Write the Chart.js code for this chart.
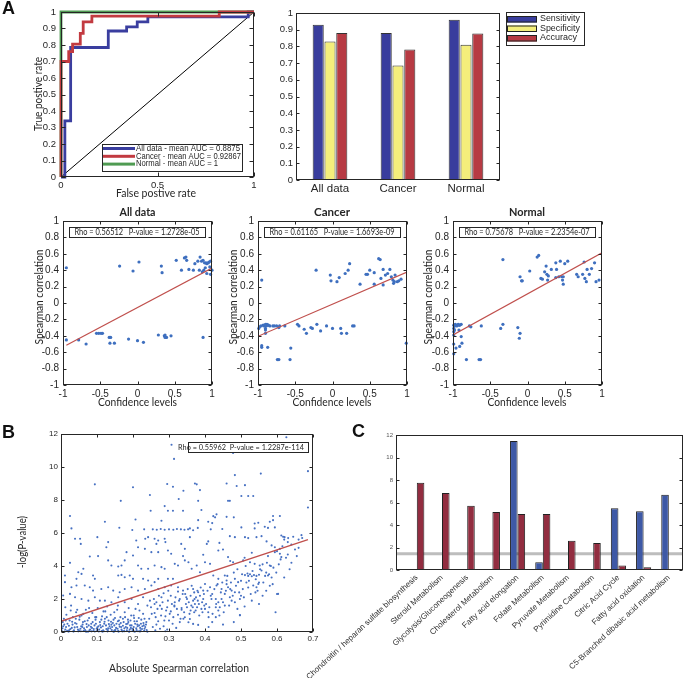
<!DOCTYPE html>
<html>
<head>
<meta charset="utf-8">
<script src="https://cdn.jsdelivr.net/npm/chart.js@4.4.1/dist/chart.umd.min.js"></script>
<style>
  html, body { margin: 0; padding: 0; background: #fff; }
  #fig { position: relative; width: 685px; height: 678px; overflow: hidden; }
  #fig canvas { position: absolute; left: 0; top: 0; }
</style>
</head>
<body>
<div id="fig">
  <canvas id="roc" width="685" height="678"></canvas>
  <canvas id="perf" width="685" height="678"></canvas>
  <canvas id="scAll" width="685" height="678"></canvas>
  <canvas id="scCancer" width="685" height="678"></canvas>
  <canvas id="scNormal" width="685" height="678"></canvas>
  <canvas id="panelB" width="685" height="678"></canvas>
  <canvas id="panelC" width="685" height="678"></canvas>
</div>
<script>
// ---------- data ----------

// A: ROC curves (x = false positive rate, y = true positive rate)
const rocAllX    = [0, 0.02, 0.02, 0.05, 0.05, 0.245, 0.245, 0.34, 0.34, 0.395, 0.395, 0.45, 0.45, 0.97, 0.97, 1];
const rocAllY    = [0, 0, 0.34, 0.34, 0.785, 0.785, 0.885, 0.885, 0.91, 0.91, 0.94, 0.94, 0.97, 0.97, 1, 1];
const rocCancerX = [0, 0, 0.04, 0.04, 0.06, 0.06, 0.1, 0.1, 0.115, 0.115, 0.16, 0.16, 0.82, 0.82, 1];
const rocCancerY = [0, 0.7, 0.7, 0.76, 0.76, 0.805, 0.805, 0.87, 0.87, 0.94, 0.94, 0.975, 0.975, 1, 1];
const rocNormalX = [0, 0, 1];
const rocNormalY = [0, 1, 1];
const rocNames = ['All data - mean AUC = 0.8875', 'Cancer - mean AUC = 0.92867', 'Normal - mean AUC = 1'];

// A: classifier performance
const groupNames  = ['All data', 'Cancer', 'Normal'];
const metricNames = ['Sensitivity', 'Specificity', 'Accuracy'];
const sensitivity = [0.93, 0.88, 0.96];
const specificity = [0.83, 0.685, 0.81];
const accuracy    = [0.88, 0.782, 0.877];

// A: confidence level vs Spearman correlation
const allPts = [
  [-0.955,0.43],[-0.955,-0.45],[-0.79,-0.45],[-0.69,-0.5],[-0.55,-0.37],[-0.52,-0.37],[-0.49,-0.37],[-0.47,-0.37],
  [-0.38,-0.42],[-0.36,-0.42],[-0.37,-0.49],[-0.31,-0.49],[-0.24,0.45],[-0.12,-0.44],[-0.06,0.39],[0,-0.46],
  [0.02,0.5],[0.08,-0.48],[0.28,-0.39],[0.32,0.45],[0.33,0.37],[0.36,-0.4],[0.37,-0.42],[0.39,-0.42],[0.37,-0.39],
  [0.45,-0.4],[0.52,0.52],[0.59,0.4],[0.63,0.55],[0.65,0.56],[0.66,0.52],[0.69,0.41],[0.75,0.4],[0.77,0.48],
  [0.81,0.51],[0.84,0.56],[0.86,0.51],[0.87,0.38],[0.88,0.52],[0.89,0.4],[0.9,0.49],[0.91,0.43],[0.92,0.49],
  [0.93,0.36],[0.93,0.48],[0.95,0.49],[0.96,0.5],[0.97,0.44],[0.98,0.51],[0.98,0.35],[1,0.4],[0.88,-0.42],[0.83,0.4]
];
const cancerPts = [
  [-0.95,0.28],[-0.99,-0.31],[-0.98,-0.29],[-0.96,-0.28],[-0.93,-0.27],[-0.92,-0.28],[-0.9,-0.26],[-0.89,-0.28],
  [-0.88,-0.26],[-0.87,-0.27],[-0.86,-0.27],[-0.84,-0.28],[-0.9,-0.31],[-0.9,-0.33],[-0.9,-0.37],[-0.95,-0.52],
  [-0.95,-0.54],[-0.87,-0.54],[-0.8,-0.28],[-0.78,-0.28],[-0.75,-0.28],[-0.71,-0.28],[-0.72,-0.3],[-0.74,-0.69],
  [-0.72,-0.69],[-0.64,-0.28],[-0.56,-0.55],[-0.57,-0.69],[-0.47,-0.26],[-0.45,-0.28],[-0.38,-0.32],[-0.35,-0.37],
  [-0.29,-0.3],[-0.27,-0.31],[-0.22,0.4],[-0.21,-0.26],[-0.16,-0.34],[-0.08,-0.28],[-0.03,0.34],[-0.02,0.27],
  [0,-0.31],[0.06,0.26],[0.09,0.31],[0.11,-0.31],[0.12,-0.37],[0.17,0.36],[0.19,-0.37],[0.21,0.4],[0.23,0.48],
  [0.27,-0.28],[0.29,-0.28],[0.37,0.23],[0.45,0.35],[0.47,0.35],[0.5,0.4],[0.56,0.37],[0.56,0.23],[0.62,0.54],
  [0.64,0.53],[0.65,0.3],[0.68,0.41],[0.68,0.22],[0.71,0.34],[0.74,0.36],[0.77,0.41],[0.79,0.32],[0.81,0.28],
  [0.82,0.24],[0.83,0.26],[0.84,0.34],[0.87,0.26],[0.89,0.27],[0.92,0.29],[0.99,-0.49]
];
const normalPts = [
  [-0.99,-0.27],[-0.98,-0.28],[-0.97,-0.26],[-0.96,-0.27],[-0.95,-0.28],[-0.93,-0.26],[-0.92,-0.27],[-0.91,-0.27],
  [-0.89,-0.26],[-0.99,-0.31],[-0.98,-0.33],[-0.99,-0.35],[-0.99,-0.39],[-0.92,-0.33],[-0.89,-0.41],[-0.88,-0.49],
  [-0.91,-0.53],[-0.96,-0.55],[-0.99,-0.5],[-0.99,-0.62],[-0.82,-0.69],[-0.78,-0.28],[-0.76,-0.29],[-0.65,-0.69],
  [-0.63,-0.69],[-0.62,-0.28],[-0.36,-0.31],[-0.33,0.53],[-0.33,-0.26],[-0.13,-0.3],[-0.11,-0.43],[-0.1,-0.37],
  [-0.1,0.32],[-0.08,0.27],[-0.07,0.27],[0.03,0.39],[0.13,0.56],[0.15,0.58],[0.18,0.3],[0.2,0.29],[0.23,0.38],
  [0.25,0.45],[0.26,0.35],[0.27,0.28],[0.28,0.33],[0.32,0.41],[0.38,0.49],[0.39,0.41],[0.38,0.31],[0.42,0.32],
  [0.44,0.51],[0.46,0.32],[0.47,0.28],[0.48,0.23],[0.48,0.32],[0.5,0.48],[0.54,0.51],[0.66,0.35],[0.68,0.32],
  [0.74,0.35],[0.77,0.3],[0.79,0.26],[0.8,0.41],[0.76,0.5],[0.83,0.35],[0.86,0.42],[0.9,0.49],[0.92,0.26],[0.96,0.28]
];
const allFit    = [[-0.955, -0.515], [1, 0.426]];
const cancerFit = [[-1, -0.406], [1, 0.377]];
const normalFit = [[-1, -0.39], [1, 0.613]];
const allRho    = 'Rho = 0.56512   P-value = 1.2728e-05';
const cancerRho = 'Rho = 0.61165   P-value = 1.6693e-09';
const normalRho = 'Rho = 0.75678   P-value = 2.2354e-07';

// B: absolute Spearman correlation vs -log(P-value)
const bPts = [
  [0.307,11.35],[0.314,10.49],[0.478,10.85],[0.626,11.8],[0.686,9.75],[0.483,9.51],[0.555,9.6],[0.094,8.95],[0.2,8.77],
  [0.295,8.97],[0.311,8.8],[0.372,9.0],[0.377,8.95],[0.386,8.6],[0.46,9.0],[0.488,8.85],[0.511,8.9],[0.34,8.56],
  [0.166,7.95],[0.247,8.3],[0.327,8.06],[0.381,7.95],[0.464,7.95],[0.469,7.95],[0.501,8.24],[0.52,8.24],[0.534,8.24],
  [0.686,7.55],[0.025,7.03],[0.122,6.68],[0.207,6.82],[0.249,7.35],[0.279,6.74],[0.288,7.63],[0.297,7.35],[0.311,7.35],
  [0.339,7.35],[0.39,7.39],[0.432,7.13],[0.423,7.02],[0.428,6.95],[0.46,6.98],[0.48,6.95],[0.589,7.03],[0.608,7.03],
  [0.381,6.78],[0.409,6.68],[0.538,6.58],[0.548,6.62],[0.58,6.68],[0.589,6.78],
  [0.029,6.28],[0.162,6.32],[0.198,6.18],[0.231,6.22],[0.255,6.22],[0.266,6.2],[0.277,6.24],[0.288,6.2],[0.3,6.22],
  [0.312,6.2],[0.322,6.24],[0.333,6.22],[0.343,6.2],[0.353,6.22],[0.358,6.28],[0.367,6.17],[0.38,6.31],[0.416,6.22],
  [0.448,6.24],[0.501,6.34],[0.538,6.28],[0.566,6.38],[0.575,6.31],[0.594,6.34],
  [0.039,5.65],[0.053,5.65],[0.055,5.34],[0.101,5.75],[0.131,5.45],[0.126,5.14],[0.209,5.55],[0.214,5.14],[0.234,5.65],
  [0.242,5.75],[0.26,5.65],[0.265,5.34],[0.27,5.55],[0.288,5.65],[0.29,5.45],[0.297,4.94],[0.306,4.74],[0.233,5.04],
  [0.251,4.84],[0.27,4.84],[0.334,5.34],[0.344,5.04],[0.339,4.6],[0.182,4.84],[0.2,4.64],[0.177,4.34],[0.131,4.34],
  [0.14,4.03],[0.159,3.97],[0.168,4.03],[0.025,4.19],[0.08,4.58],[0.103,4.6],[0.358,5.75],[0.405,5.34],[0.409,5.49],
  [0.437,4.94],[0.45,5.0],[0.469,5.81],[0.483,5.75],[0.511,5.75],[0.52,5.69],[0.543,5.75],[0.557,5.81],[0.571,5.49],
  [0.585,5.25],[0.594,5.14],[0.608,5.04],[0.612,5.85],[0.621,5.75],[0.631,5.69],[0.594,4.84],[0.608,4.74],[0.612,4.54],
  [0.395,4.68],[0.4,4.23],[0.414,4.13],[0.464,4.54],[0.478,4.23],[0.506,4.34],[0.525,4.23],[0.538,4.13],[0.552,4.03],
  [0.617,5.77],[0.645,5.77],[0.668,5.87],[0.354,4.23],[0.377,4.03],[0.214,4.03],[0.26,4.03],[0.279,3.93],[0.316,4.13],
  [0.325,4.03],[0.344,4.34],
  [0.062,3.83],[0.048,3.62],[0.057,3.52],[0.011,3.42],[0.043,3.22],[0.089,3.42],[0.094,3.22],[0.223,3.83],[0.242,3.83],
  [0.288,3.83],[0.159,3.42],[0.168,3.46],[0.177,3.32],[0.191,3.42],[0.2,3.22],[0.228,3.22],[0.242,3.12],[0.26,3.02],
  [0.27,3.22],[0.297,3.22],[0.311,3.22],[0.557,3.73],[0.575,3.42],[0.58,4.03],[0.511,3.45],[0.52,3.4],[0.525,3.5],
  [0.53,3.38],[0.536,3.45],[0.543,3.4],[0.55,3.47],[0.518,3.55],[0.363,3.83],[0.386,3.62],[0.423,3.42],[0.437,3.22],
  [0.455,3.42],[0.46,3.12],[0.483,3.22],[0.492,3.02],[0.534,2.82],[0.543,2.71],[0.548,2.91],[0.474,2.51],
  [0.011,3.02],[0.029,2.71],[0.043,2.82],[0.066,2.82],[0.08,2.71],[0.089,2.51],[0.112,2.61],[0.131,2.71],[0.145,2.51],
  [0.163,2.41],[0.177,2.61],[0.196,2.71],[0.214,2.51],[0.233,2.61],[0.251,2.82],[0.27,2.61],[0.288,2.71],[0.306,2.82],
  [0.325,2.71],[0.339,2.51],[0.4,2.91],[0.414,2.71],[0.432,2.82],[0.446,2.61],[0.464,2.71],[0.367,2.61],[0.381,2.41],
  [0.395,2.51],[0.603,2.31],[0.455,2.31],[0.469,2.11],[0.483,2.41],[0.497,2.0],
  [0.006,2.21],[0.025,2.31],[0.039,2.11],[0.057,2.0],[0.076,1.9],[0.094,2.11],[0.108,1.9],[0.122,1.9],[0.14,1.8],
  [0.159,2.11],[0.177,1.8],[0.196,2.0],[0.214,1.7],[0.228,2.11],[0.247,1.9],[0.265,1.8],[0.279,2.11],[0.297,1.9],
  [0.316,1.8],[0.33,2.0],[0.348,2.11],[0.345,2.3],[0.35,2.0],[0.355,1.8],[0.36,2.2],[0.362,1.6],[0.367,1.9],[0.37,2.4],
  [0.372,1.7],[0.375,2.1],[0.378,1.5],[0.38,1.9],[0.383,1.7],[0.386,2.2],[0.39,1.4],[0.392,1.8],[0.395,2.0],[0.398,1.6],
  [0.36,1.3],[0.37,1.2],[0.35,1.5],[0.418,2.0],[0.437,1.8],[0.446,2.0],[0.474,1.9],[0.483,1.8],[0.4,1.4],[0.409,1.2],
  [0.437,1.3],[0.497,1.03],[0.354,0.59],[0.367,0.49],[0.381,0.43],[0.344,0.89],[0.358,0.79],
  [0.003,0.05],[0.006,0.35],[0.008,0.8],[0.012,0.15],[0.015,1.05],[0.018,0.5],[0.021,0.02],[0.024,0.7],[0.027,1.3],
  [0.03,0.25],[0.033,0.9],[0.036,0.1],[0.039,0.55],[0.042,1.2],[0.045,0.3],[0.048,0.04],[0.051,0.75],[0.054,0.2],
  [0.057,1.0],[0.06,0.45],[0.063,0.08],[0.066,0.65],[0.069,1.35],[0.072,0.3],[0.075,0.02],[0.078,0.85],[0.081,0.15],
  [0.084,0.5],[0.087,1.15],[0.09,0.06],[0.093,0.4],[0.096,0.75],[0.099,0.2],[0.102,1.45],[0.105,0.03],[0.108,0.6],
  [0.111,0.28],[0.114,0.95],[0.117,0.1],[0.12,0.5],[0.123,1.25],[0.126,0.18],[0.129,0.04],[0.132,0.7],[0.135,0.35],
  [0.138,1.05],[0.141,0.12],[0.144,0.55],[0.147,0.02],[0.15,0.85],[0.153,0.25],[0.156,1.35],[0.159,0.08],[0.162,0.45],
  [0.165,0.9],[0.168,0.15],[0.171,0.03],[0.174,0.6],[0.177,1.2],[0.18,0.3],[0.183,0.1],[0.186,0.75],[0.189,0.02],
  [0.192,0.4],[0.195,1.0],[0.198,0.2],[0.201,0.05],[0.204,0.65],[0.207,1.4],[0.21,0.12],[0.213,0.35],[0.216,0.85],
  [0.219,0.03],[0.222,0.5],[0.225,0.18],[0.228,1.1],[0.231,0.07],[0.234,0.3],[0.237,0.6],[0.24,0.02],
  [0.005,0.6],[0.014,0.3],[0.023,0.12],[0.032,0.45],[0.041,0.8],[0.05,0.1],[0.059,0.3],[0.068,0.05],[0.077,0.4],
  [0.086,0.25],[0.095,0.9],[0.104,0.35],[0.113,0.06],[0.122,0.8],[0.131,0.22],[0.14,0.45],[0.149,0.1],[0.158,0.65],
  [0.167,0.3],[0.176,0.05],[0.185,0.5],[0.194,0.25],[0.203,0.85],[0.212,0.45],[0.221,0.1],[0.23,0.4],
  [0.01,0.02],[0.02,0.06],[0.035,0.03],[0.055,0.05],[0.07,0.02],[0.085,0.04],[0.1,0.06],[0.115,0.02],[0.13,0.05],
  [0.145,0.03],[0.16,0.02],[0.175,0.06],[0.19,0.03],[0.205,0.02],[0.22,0.05],
  [0.012,1.5],[0.028,1.6],[0.045,1.35],[0.062,1.1],[0.078,1.45],[0.098,0.9],[0.118,1.25],[0.128,1.55],[0.148,1.2],
  [0.158,1.6],[0.172,0.8],[0.188,1.45],[0.202,1.0],[0.218,1.3],[0.232,0.8],[0.24,1.6],
  [0.004,0.22],[0.009,0.45],[0.013,0.7],[0.017,0.08],[0.022,0.38],[0.026,0.18],[0.031,0.62],[0.034,0.04],[0.038,0.28],
  [0.043,0.5],[0.047,0.15],[0.052,0.92],[0.056,0.35],[0.061,0.6],[0.064,0.22],[0.067,0.12],[0.071,0.48],[0.074,0.7],
  [0.079,0.1],[0.083,0.32],[0.088,0.6],[0.091,0.18],[0.094,0.03],[0.097,0.5],[0.101,0.28],[0.106,0.15],[0.109,0.42],
  [0.112,0.75],[0.116,0.35],[0.119,0.05],[0.121,0.62],[0.125,0.4],[0.127,0.9],[0.13,0.12],[0.133,0.48],[0.137,0.22],
  [0.139,0.62],[0.142,0.3],[0.146,0.75],[0.148,0.4],[0.151,0.12],[0.154,0.5],[0.157,0.2],[0.161,0.7],[0.163,0.32],
  [0.166,0.55],[0.169,0.08],[0.172,0.38],[0.176,0.22],[0.178,0.9],[0.181,0.48],[0.184,0.25],[0.187,0.6],[0.191,0.15],
  [0.193,0.7],[0.196,0.4],[0.199,0.1],[0.202,0.3],[0.206,0.5],[0.209,0.22],[0.211,0.65],[0.214,0.05],[0.217,0.4],
  [0.22,0.25],[0.223,0.75],[0.226,0.35],[0.229,0.55],[0.232,0.2],[0.236,0.45],[0.238,0.12],
  [0.245,0.8],[0.25,1.5],[0.255,0.3],[0.26,1.15],[0.265,0.45],[0.27,0.65],[0.275,0.2],[0.28,1.4],[0.285,0.35],
  [0.29,0.95],[0.295,0.15],[0.3,0.7],[0.305,1.25],[0.31,0.5],[0.315,1.55],[0.32,0.25],[0.325,1.05],[0.33,0.6],
  [0.335,1.35],[0.34,0.8],[0.26,1.7],[0.275,1.6],[0.285,2.35],[0.295,1.5],[0.305,2.2],[0.315,1.6],[0.325,2.45],
  [0.335,1.45],[0.29,0.05],[0.262,0.1],
  [0.252,1.1],[0.258,2.0],[0.263,0.9],[0.268,1.4],[0.272,2.2],[0.278,1.0],[0.282,1.8],[0.287,0.7],[0.292,1.3],
  [0.298,2.5],[0.302,1.1],[0.308,1.7],[0.312,0.9],[0.318,2.1],[0.322,1.4],[0.328,1.9],[0.332,0.8],[0.338,2.3],
  [0.342,1.2],[0.347,1.7],[0.352,2.6],[0.357,1.1],[0.363,2.8],[0.366,1.5],[0.371,2.0],[0.374,1.3],[0.379,2.5],
  [0.384,1.0],[0.388,2.7],[0.393,1.2],[0.397,2.3],[0.403,1.7],[0.407,2.5],[0.412,1.5],[0.416,2.2],[0.421,1.1],
  [0.426,2.6],[0.431,1.7],[0.435,2.9],[0.441,1.5],[0.444,2.4],[0.448,3.0],[0.452,1.2],[0.458,2.5],[0.462,3.4],
  [0.467,1.6],[0.472,3.0],[0.477,2.2],[0.486,2.8],[0.49,3.8],[0.495,2.4],[0.503,3.5],[0.508,2.1],[0.513,4.0],
  [0.522,3.1],[0.527,2.3],[0.532,3.7],[0.541,3.2],[0.546,2.5],[0.553,3.8],[0.562,3.0],[0.567,3.4],[0.572,4.2],
  [0.578,3.5],[0.583,4.0],[0.588,2.9],[0.598,3.6],[0.605,4.1],[0.625,4.5],[0.635,3.8],[0.655,4.6],
  [0.41,0.9],[0.42,0.6],[0.43,1.5],[0.44,1.0],[0.45,0.45],[0.455,1.6],[0.47,2.6],[0.49,1.4],[0.5,2.2],[0.51,1.55],
  [0.52,2.7],[0.53,1.9],[0.54,2.4],[0.55,3.0],[0.56,2.2],[0.57,3.6],[0.58,2.8],[0.59,3.9],[0.6,2.3],[0.61,4.4],
  [0.62,3.3],[0.63,4.7],[0.64,4.2],[0.65,5.0],[0.66,5.6],[0.62,5.6],[0.6,4.9],[0.497,1.01],[0.53,4.8],[0.51,4.5],
  [0.47,4.3],[0.44,5.4],[0.42,6.6],[0.596,1.2],[0.42,2.3],[0.43,2.0],[0.45,1.8],[0.46,2.9],[0.48,3.6],[0.5,3.1],
  [0.505,2.6],[0.515,3.0],[0.56,4.1],[0.575,4.6],[0.585,3.3],[0.64,5.3],[0.615,5.2],[0.67,5.7],[0.63,5.45],[0.66,5.1],
  [0.57,2.5],[0.55,1.7],[0.48,0.6],[0.41,0.3],[0.43,0.9]
];
const bFit = [[0, 0.65], [0.686, 5.6]];
const bRho = 'Rho = 0.55962  P-value = 1.2287e-114';

// C: pathway enrichment, -log(P-value)
const pathways = ['Chondroitin / heparan sulfate biosynthesis', 'Steroid Metabolism', 'Glycolysis/Gluconeogenesis',
  'Cholesterol Metabolism', 'Fatty acid elongation', 'Folate Metabolism', 'Pyruvate Metabolism',
  'Pyrimidine Catabolism', 'Citric Acid Cycle', 'Fatty acid oxidation', 'C5-Branched dibasic acid metabolism'];
const seriesBlue = [0, 0, 0, 0, 11.47, 0.68, 0, 0, 5.5, 5.22, 6.7];
const seriesRed  = [7.75, 6.85, 5.72, 5.16, 4.98, 4.97, 2.6, 2.4, 0.4, 0.24, 0];
const cutoff = 1.45;

// ---------- helpers ----------
const W = 685, H = 678;
const TICK = '"Liberation Sans", Arial, sans-serif';
const LABEL = 'Lato, "Liberation Sans", sans-serif';
const INK = '#262626';

const toXY = pts => pts.map(([x, y]) => ({x, y}));
const zip = (xs, ys) => xs.map((x, i) => ({x, y: ys[i]}));
const fmt = v => String(+(+v).toFixed(2));

// MATLAB-like box with inward ticks on all four sides
const framePlugin = {
  id: 'frame',
  afterDatasetsDraw(chart, args, o) {
    const {ctx, chartArea: a, scales: {x, y}} = chart;
    const l = Math.round(a.left) + 0.5, r = Math.round(a.right) - 0.5;
    const t = Math.round(a.top) + 0.5, b = Math.round(a.bottom) - 0.5;
    const len = o.len || 3;
    ctx.save();
    ctx.strokeStyle = INK;
    ctx.lineWidth = 1;
    ctx.beginPath();
    if (o.xTicks !== false) {
      x.ticks.forEach(tk => {
        const p = Math.round(x.getPixelForValue(tk.value)) + 0.5;
        ctx.moveTo(p, b); ctx.lineTo(p, b - len);
        ctx.moveTo(p, t); ctx.lineTo(p, t + len);
      });
    }
    if (o.yTicks !== false) {
      y.ticks.forEach(tk => {
        const p = Math.round(y.getPixelForValue(tk.value)) + 0.5;
        ctx.moveTo(l, p); ctx.lineTo(l + len, p);
        ctx.moveTo(r, p); ctx.lineTo(r - len, p);
      });
    }
    ctx.stroke();
    ctx.strokeRect(l, t, r - l, b - t);
    ctx.restore();
  }
};

// free text, legend boxes and labels, in page pixels
const notesPlugin = {
  id: 'notes',
  afterDraw(chart, args, o) {
    const ctx = chart.ctx;
    (o.items || []).forEach(n => {
      ctx.save();
      if (n.t === 'box') {
        ctx.fillStyle = '#fff';
        ctx.fillRect(n.x, n.y, n.w, n.h);
        ctx.strokeStyle = n.stroke || INK;
        ctx.lineWidth = 1;
        ctx.strokeRect(n.x + 0.5, n.y + 0.5, n.w, n.h);
      } else if (n.t === 'swatch') {
        ctx.fillStyle = n.color;
        ctx.fillRect(n.x, n.y, n.w, n.h);
        ctx.strokeStyle = '#222';
        ctx.lineWidth = 1;
        ctx.strokeRect(n.x + 0.5, n.y + 0.5, n.w - 1, n.h - 1);
      } else if (n.t === 'line') {
        ctx.strokeStyle = n.color;
        ctx.lineWidth = n.width || 1;
        ctx.beginPath();
        ctx.moveTo(n.x1, n.y1);
        ctx.lineTo(n.x2, n.y2);
        ctx.stroke();
      } else {
        ctx.font = n.font;
        ctx.fillStyle = n.color || INK;
        ctx.textAlign = n.align || 'left';
        ctx.textBaseline = 'middle';
        ctx.translate(n.x, n.y);
        if (n.rot) ctx.rotate(n.rot);
        if (n.maxW) ctx.fillText(n.s, 0, 0, n.maxW);
        else ctx.fillText(n.s, 0, 0);
      }
      ctx.restore();
    });
  }
};

// every chart covers the whole page; the padding puts its plot area where the figure has it
function makeChart(id, p) {
  const noGrid = {display: false, drawTicks: false};
  const xs = Object.assign({grid: noGrid, border: {display: false}, offset: false,
    afterFit: s => { s.height = p.mB; s.paddingLeft = 0; s.paddingRight = 0; }}, p.x);
  const ys = Object.assign({grid: noGrid, border: {display: false},
    afterFit: s => { s.width = p.mL; s.paddingTop = 0; s.paddingBottom = 0; }}, p.y);
  return new Chart(document.getElementById(id), {
    type: p.type,
    data: p.data,
    options: {
      responsive: false,
      animation: false,
      events: [],
      devicePixelRatio: 1,
      layout: {padding: {left: p.L - p.mL, top: p.T, right: W - p.R, bottom: H - p.B - p.mB}},
      scales: {x: xs, y: ys},
      plugins: {
        legend: {display: false},
        tooltip: {enabled: false},
        frame: p.frame || {},
        notes: {items: p.notes || []}
      }
    },
    plugins: [framePlugin, notesPlugin]
  });
}

// ---------- A: ROC ----------
const rocColors = ['#3a3e9f', '#c23a40', '#4f9b52'];
const rocLegend = [{t: 'box', x: 102, y: 144, w: 140, h: 27}];
rocNames.forEach((name, i) => {
  const yy = 148.5 + i * 7.8;
  rocLegend.push({t: 'line', x1: 103, y1: yy, x2: 135, y2: yy, color: rocColors[i], width: 3});
  rocLegend.push({s: name, x: 136, y: yy, font: '8.5px ' + TICK, maxW: [104, 105, 82][i]});
});

makeChart('roc', {
  type: 'line', L: 61, T: 12, R: 254, B: 177, mL: 40, mB: 20,
  data: {datasets: [
    {data: zip(rocCancerX, rocCancerY), borderColor: rocColors[1], borderWidth: 2.8, order: 0},
    {data: zip(rocNormalX, rocNormalY), borderColor: rocColors[2], borderWidth: 2.8, order: 1},
    {data: zip(rocAllX, rocAllY), borderColor: rocColors[0], borderWidth: 2.8, order: 2},
    {data: zip([0, 1], [0, 1]), borderColor: '#000', borderWidth: 1, order: 3}
  ].map(d => Object.assign(d, {pointRadius: 0, tension: 0, clip: false}))},
  x: {type: 'linear', min: 0, max: 1,
      ticks: {stepSize: 0.5, padding: 3, color: INK, font: {family: TICK, size: 9.5}, callback: fmt}},
  y: {type: 'linear', min: 0, max: 1,
      ticks: {stepSize: 0.1, padding: 5, color: INK, font: {family: TICK, size: 9.5}, callback: fmt}},
  frame: {len: 4},
  notes: rocLegend.concat([
    {s: 'A', x: 2, y: 9, font: 'bold 18px ' + TICK, color: '#111'},
    {s: 'True postive rate', x: 38, y: 94, font: '11.5px ' + LABEL, align: 'center', rot: -Math.PI / 2, maxW: 74},
    {s: 'False postive rate', x: 156, y: 193, font: '11.5px ' + LABEL, align: 'center', maxW: 80}
  ])
});

// ---------- A: performance bars ----------
const perfColors = ['#393d9d', '#f4ee7b', '#b73a43'];
const perfLegend = [{t: 'box', x: 506, y: 12, w: 78, h: 33}];
metricNames.forEach((name, i) => {
  const yy = 19 + i * 9.5;
  perfLegend.push({t: 'swatch', x: 507, y: yy - 3, w: 30, h: 6.5, color: perfColors[i]});
  perfLegend.push({s: name, x: 540, y: yy, font: '9px ' + TICK, maxW: 40});
});

makeChart('perf', {
  type: 'bar', L: 296, T: 13, R: 500, B: 180, mL: 30, mB: 20,
  data: {labels: groupNames, datasets: [sensitivity, specificity, accuracy].map((vals, i) => ({
    label: metricNames[i], data: vals, backgroundColor: perfColors[i], borderColor: '#333', borderWidth: 1,
    categoryPercentage: 0.52, barPercentage: 0.94
  }))},
  x: {type: 'category', offset: true,
      ticks: {padding: 2, color: INK, font: {family: TICK, size: 11.5}}},
  y: {type: 'linear', min: 0, max: 1,
      ticks: {stepSize: 0.1, padding: 3, color: INK, font: {family: TICK, size: 9.5}, callback: fmt}},
  frame: {len: 3, xTicks: false},
  notes: perfLegend
});

// ---------- A: confidence vs correlation ----------
function corrPanel(id, L, pts, fit, title, rho, titleX, ylabX) {
  const R = L + 149;
  makeChart(id, {
    type: 'scatter', L: L, T: 221, R: R, B: 385, mL: 40, mB: 25,
    data: {datasets: [
      {type: 'line', data: toXY(fit), borderColor: '#c0504d', borderWidth: 1.2, pointRadius: 0, order: 0},
      {data: toXY(pts), pointRadius: 1.6, pointBorderWidth: 0, pointBackgroundColor: '#3e6fbf', clip: false, order: 1}
    ]},
    x: {type: 'linear', min: -1, max: 1,
        ticks: {stepSize: 0.5, padding: 3, color: INK, font: {family: TICK, size: 10}, callback: fmt}},
    y: {type: 'linear', min: -1, max: 1,
        ticks: {stepSize: 0.2, padding: 4, color: INK, font: {family: TICK, size: 10}, callback: fmt}},
    frame: {len: 3},
    notes: [
      {s: title, x: titleX, y: 212, font: 'bold 12px ' + LABEL, align: 'center', maxW: 36},
      {t: 'box', x: L + 6, y: 227, w: 136, h: 10},
      {s: rho, x: (2 * L + 148) / 2, y: 232.5, font: '8.5px ' + LABEL, align: 'center', maxW: 125},
      {s: 'Spearman correlation', x: ylabX, y: 297, font: '11.5px ' + LABEL, align: 'center', rot: -Math.PI / 2, maxW: 95},
      {s: 'Confidence levels', x: titleX, y: 402, font: '11.5px ' + LABEL, align: 'center', maxW: 79}
    ]
  });
}
corrPanel('scAll', 63, allPts, allFit, 'All data', allRho, 137.5, 39);
corrPanel('scCancer', 258, cancerPts, cancerFit, 'Cancer', cancerRho, 332, 233);
corrPanel('scNormal', 453, normalPts, normalFit, 'Normal', normalRho, 527, 428);

// ---------- B ----------
makeChart('panelB', {
  type: 'scatter', L: 61, T: 434, R: 313, B: 632, mL: 40, mB: 30,
  data: {datasets: [
    {type: 'line', data: toXY(bFit), borderColor: '#c0504d', borderWidth: 1.3, pointRadius: 0, order: 0},
    {data: toXY(bPts), pointRadius: 1.05, pointBorderWidth: 0, pointBackgroundColor: '#4670c2', clip: false, order: 1}
  ]},
  x: {type: 'linear', min: 0, max: 0.7,
      ticks: {stepSize: 0.1, padding: 2, color: INK, font: {family: TICK, size: 8}, callback: fmt}},
  y: {type: 'linear', min: 0, max: 12,
      ticks: {stepSize: 2, padding: 3, color: INK, font: {family: TICK, size: 8}, callback: fmt}},
  frame: {len: 3},
  notes: [
    {s: 'B', x: 2, y: 433, font: 'bold 18px ' + TICK, color: '#111'},
    {t: 'box', x: 188, y: 442, w: 120, h: 10},
    {s: bRho, x: 178, y: 447, font: '8px ' + LABEL, maxW: 126},
    {s: '-log(P-value)', x: 22, y: 542, font: '12px ' + LABEL, align: 'center', rot: -Math.PI / 2, maxW: 52},
    {s: 'Absolute Spearman correlation', x: 179, y: 668, font: '12px ' + LABEL, align: 'center', maxW: 140}
  ]
});

// ---------- C ----------
makeChart('panelC', {
  type: 'bar', L: 396, T: 435, R: 683, B: 570, mL: 81, mB: 108,
  data: {datasets: [
    {label: 'blue', data: seriesBlue.map((v, i) => ({x: i, y: v})), backgroundColor: '#3e59a6',
     borderColor: '#222', borderWidth: 1, categoryPercentage: 0.6, barPercentage: 1, order: 0},
    {label: 'red', data: seriesRed.map((v, i) => ({x: i, y: v})), backgroundColor: '#922d40',
     borderColor: '#222', borderWidth: 1, categoryPercentage: 0.6, barPercentage: 1, order: 0},
    {type: 'line', data: [{x: -0.825, y: cutoff}, {x: 10.563, y: cutoff}], borderColor: '#bdbdbd',
     borderWidth: 3, pointRadius: 0, order: 2}
  ]},
  x: {type: 'linear', min: -0.825, max: 10.563,
      afterBuildTicks: s => { s.ticks = pathways.map((_, i) => ({value: i})); },
      ticks: {autoSkip: false, maxRotation: 43, minRotation: 43, padding: 3, color: '#333',
              font: {family: TICK, size: 8}, callback: v => pathways[v]}},
  y: {type: 'linear', min: 0, max: 12,
      ticks: {stepSize: 2, padding: 3, color: '#555', font: {family: TICK, size: 6}, callback: fmt}},
  frame: {len: 3, xTicks: false},
  notes: [
    {s: 'C', x: 352, y: 432, font: 'bold 18px ' + TICK, color: '#111'}
  ]
});
</script>
</body>
</html>
